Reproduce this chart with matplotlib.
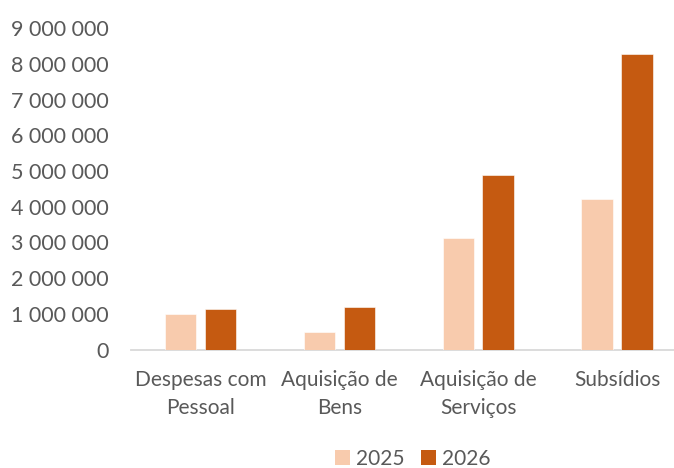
import matplotlib
matplotlib.use("Agg")
import matplotlib.pyplot as plt
from matplotlib.ticker import FuncFormatter, MultipleLocator
from matplotlib.patches import Patch
import numpy as np

categories = ["Despesas com\nPessoal", "Aquisição de\nBens", "Aquisição de\nServiços", "Subsídios"]
series_names = ["2025", "2026"]
values_2025 = [990000, 480000, 3110000, 4220000]
values_2026 = [1140000, 1200000, 4890000, 8280000]
colors = ["#F8CBAD", "#C55A11"]

plt.rcParams['font.family'] = ['Lato', 'DejaVu Sans']
text_color = "#595959"
fs = 15.5

W, H = 674, 468
fig = plt.figure(figsize=(W / 100, H / 100), dpi=100)
left = 131.3 / W
right = 686.4 / W
bottom = (H - 349.5) / H
top = (H - 28.2) / H
ax = fig.add_axes([left, bottom, right - left, top - bottom])

x = np.arange(len(categories))
bw = 0.227
off = 0.144
ax.bar(x - off, values_2025, bw, color=colors[0], edgecolor="white", linewidth=0.4, zorder=3)
ax.bar(x + off, values_2026, bw, color=colors[1], edgecolor="white", linewidth=0.4, zorder=3)

ax.set_xlim(-0.5, 3.5)
ax.set_ylim(0, 9000000)
ax.yaxis.set_major_locator(MultipleLocator(1000000))
ax.yaxis.set_major_formatter(FuncFormatter(lambda v, p: f"{v:,.0f}".replace(",", " ")))
ax.set_xticks(x)
ax.set_xticklabels(categories, linespacing=1.45, fontsize=15)

for s in ["top", "right", "left"]:
    ax.spines[s].set_visible(False)
ax.spines["bottom"].set_color("#D9D9D9")
ax.spines["bottom"].set_linewidth(1.3)
ax.tick_params(axis="y", length=0, pad=16.5, labelsize=fs, labelcolor=text_color)
ax.tick_params(axis="x", length=0, pad=15, labelcolor=text_color)

handles = [Patch(facecolor=colors[0]), Patch(facecolor=colors[1])]
fig.legend(handles, series_names, loc="center", bbox_to_anchor=(413 / W, 1 - 459 / H),
           ncol=2, frameon=False, fontsize=15, labelcolor=text_color,
           handlelength=0.7, handleheight=0.7, handletextpad=0.3, columnspacing=0.8)

fig.savefig("out.png", dpi=100)
